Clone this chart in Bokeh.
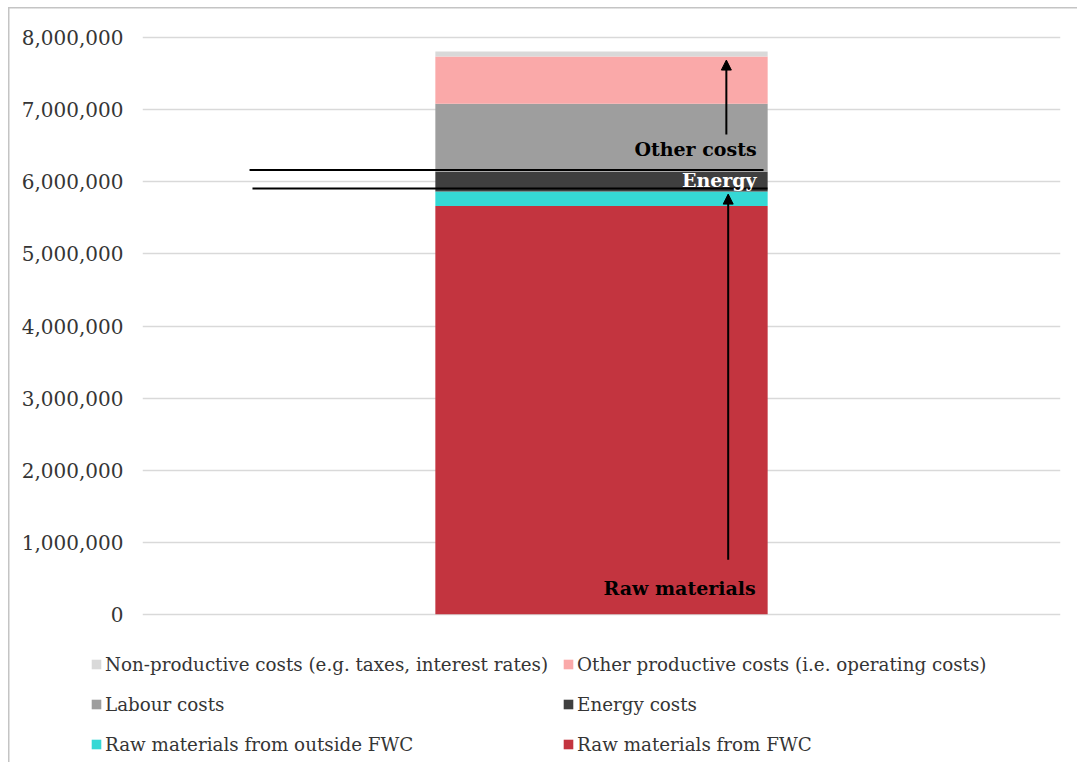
from bokeh.plotting import figure
from bokeh.layouts import column
from bokeh.models import (ColumnDataSource, Legend, LegendItem, NumeralTickFormatter,
                          FixedTicker, Range1d, Arrow, NormalHead, Label)
from bokeh.embed import file_html
from bokeh.resources import INLINE

# Cost structure of the processing stage (EUR), one stacked column
categories = ["Total"]
raw_fwc = [5665000]
raw_outside = [200000]
energy = [275000]
labour = [945000]
other_productive = [655000]
non_productive = [70000]

stack_keys = ["raw_fwc", "raw_outside", "energy", "labour", "other_productive", "non_productive"]
series_labels = {
    "raw_fwc": "Raw materials from FWC",
    "raw_outside": "Raw materials from outside FWC",
    "energy": "Energy costs",
    "labour": "Labour costs",
    "other_productive": "Other productive costs (i.e. operating costs)",
    "non_productive": "Non-productive costs (e.g. taxes, interest rates)",
}
series_colors = {
    "raw_fwc": "#c3343f",
    "raw_outside": "#35d8d5",
    "energy": "#3f3f3f",
    "labour": "#9e9e9e",
    "other_productive": "#faa9a9",
    "non_productive": "#d9d9d9",
}
legend_order = ["non_productive", "other_productive", "labour", "energy", "raw_outside", "raw_fwc"]
y_ticks = [0, 1000000, 2000000, 3000000, 4000000, 5000000, 6000000, 7000000, 8000000]

# annotation positions (value axis in EUR, horizontal in plot fraction)
marker_lines_y = [6163000, 5908000]
marker_lines_x0 = [0.1166, 0.1198]
marker_lines_x1 = [0.6765, 0.6808]

source = ColumnDataSource(dict(
    x=[0.5],
    cat=categories,
    raw_fwc=raw_fwc,
    raw_outside=raw_outside,
    energy=energy,
    labour=labour,
    other_productive=other_productive,
    non_productive=non_productive,
))

SERIF = "DejaVu Serif"
TEXT = "#353535"
FRAME = "#c4c4c4"

# ---- main chart ----
p = figure(width=1077, height=640, output_backend="svg", toolbar_location=None,
           x_range=Range1d(0, 1), y_range=Range1d(-100000, 8100000),
           min_border_left=142, min_border_right=17, min_border_top=30, min_border_bottom=19)
p.frame_align = False
p.outline_line_color = None
p.background_fill_color = "white"
p.border_fill_color = None

renderers = p.vbar_stack(stack_keys, x="x", width=0.362, source=source,
                         color=[series_colors[k] for k in stack_keys], line_color=None)

p.xaxis.visible = False
p.xgrid.visible = False
p.ygrid.ticker = FixedTicker(ticks=y_ticks)
p.ygrid.grid_line_color = "#d9d9d9"
p.ygrid.grid_line_width = 1.6

ax = p.yaxis[0]
ax.ticker = FixedTicker(ticks=y_ticks)
ax.formatter = NumeralTickFormatter(format="0,0")
ax.axis_line_color = None
ax.major_tick_line_color = None
ax.minor_tick_line_color = None
ax.major_label_standoff = 13
ax.major_label_text_font = SERIF
ax.major_label_text_font_size = "20px"
ax.major_label_text_color = TEXT

# bracket lines around the energy band
p.segment(x0=marker_lines_x0, y0=marker_lines_y, x1=marker_lines_x1, y1=marker_lines_y,
          line_color="black", line_width=2)

# arrows
p.add_layout(Arrow(end=NormalHead(size=10, fill_color="black", line_color="black"),
                   x_start=0.636, y_start=6657000, x_end=0.636, y_end=7690000,
                   line_color="black", line_width=2))
p.add_layout(Arrow(end=NormalHead(size=10, fill_color="black", line_color="black"),
                   x_start=0.638, y_start=757000, x_end=0.638, y_end=5830000,
                   line_color="black", line_width=2))

def note(x, y, text, color):
    p.add_layout(Label(x=x, y=y, text=text, text_align="right", text_baseline="middle",
                       text_font=SERIF, text_font_style="bold", text_font_size="19px",
                       text_color=color))

note(0.669, 6460000, "Other costs", "black")
note(0.669, 6020000, "Energy", "white")
note(0.668, 360000, "Raw materials", "black")

# ---- legend strip ----
lg = figure(width=1077, height=122, output_backend="svg", toolbar_location=None,
            x_range=Range1d(0, 1077), y_range=Range1d(0, 122),
            x_axis_location=None, y_axis_location=None,
            min_border=0, min_border_left=0, min_border_right=0,
            min_border_top=0, min_border_bottom=0)
lg.frame_align = False
lg.outline_line_color = None
lg.background_fill_color = None
lg.border_fill_color = None
lg.xgrid.visible = False
lg.ygrid.visible = False

# swatch renderers sit outside the visible range; only their legend glyphs show
swatches = {k: lg.vbar(x=[-500], top=[-500], bottom=[-501], width=1,
                       color=series_colors[k], line_color=None)
            for k in stack_keys}

legend = Legend(items=[LegendItem(label=series_labels[k], renderers=[swatches[k]]) for k in legend_order],
                ncols=2, location=(90, 5), orientation="horizontal")
legend.border_line_color = None
legend.background_fill_alpha = 0
legend.padding = 0
legend.margin = 0
legend.spacing = 14
legend.glyph_width = 12
legend.glyph_height = 12
legend.label_standoff = 3
legend.label_height = 26
legend.label_text_font = SERIF
legend.label_text_font_size = "18.3px"
legend.label_text_color = TEXT
lg.add_layout(legend, "center")

# page frame: thin rule along the top and left edges
page = column(p, lg, spacing=0)
page.styles = {
    "background": (f"linear-gradient({FRAME},{FRAME}) 8px 7px / 100% 1.5px no-repeat, "
                   f"linear-gradient({FRAME},{FRAME}) 8px 7px / 1.5px 100% no-repeat, white"),
}

open("out.html", "w").write(file_html(page, INLINE))
